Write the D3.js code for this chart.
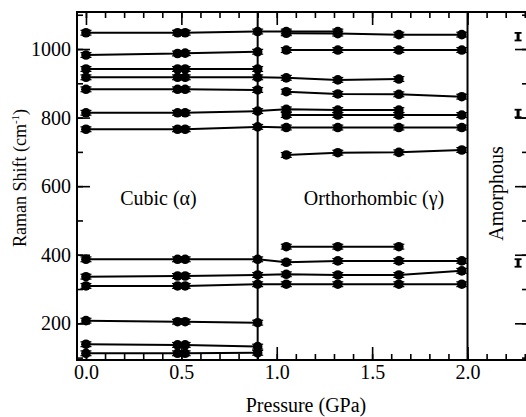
<!DOCTYPE html>
<html>
<head>
<meta charset="utf-8">
<script src="https://cdn.jsdelivr.net/npm/d3@7"></script>
<style>
  body { margin: 0; background: #fff; }
  svg { display: block; }
</style>
</head>
<body>
<svg id="chart" width="526" height="417" font-family="Liberation Serif" style="font-family: &quot;Liberation Serif&quot;"></svg>
<script>
// ---- data ----
const pressures = [0.0, 0.48, 0.52, 0.9, 1.05, 1.32, 1.64, 1.97];
const modeA = [1047.5, 1047.5, 1047.5, 1051, 1051, 1051, null, null];
const modeB = [null, null, null, null, 1046, 1045, 1042, 1042];
const modeC = [982.5, 987, 988, 992, null, null, null, null];
const modeD = [null, null, null, null, 997, 997, 997, 997];
const modeE = [941.7, 941.7, 941.7, 941.7, null, null, null, null];
const modeF = [917.5, 917.5, 917.5, 917.5, 916, 910, 912.5, null];
const modeG = [882.5, 882.5, 882.5, 880.6, null, null, null, null];
const modeH = [null, null, null, null, 875.5, 869, 868, 861];
const modeI = [814, 814, 814, 819, 824, 822, 822, null];
const modeJ = [null, null, null, null, 807.5, 807.5, 807.5, 807.5];
const modeK = [766, 766, 766, 773, 771, 771, 771, 771];
const modeL = [null, null, null, null, 691, 697.6, 698.7, 705.5];
const modeM = [null, null, null, null, 423.5, 423.5, 423.5, null];
const modeN = [386.7, 386.7, 386.7, 386.7, 378, 382, 382, 382];
const modeO = [336, 338, 338, 341, 343, 341, 341, 353];
const modeP = [309, 309, 309, 314, 314, 314, 314, 314];
const modeQ = [207.7, 204.7, 204.7, 201.8, null, null, null, null];
const modeR = [139, 137, 137, 132, null, null, null, null];
const modeS = [112.6, 112.6, 112.6, 114, null, null, null, null];
const modes = [modeA, modeB, modeC, modeD, modeE, modeF, modeG, modeH, modeI, modeJ,
               modeK, modeL, modeM, modeN, modeO, modeP, modeQ, modeR, modeS];

const amorphPressure = 2.265;
const amorphModes = [1036, 812, 376];

const phaseBoundaries = [0.9, 2.0];
const xMajorTicks = [0.0, 0.5, 1.0, 1.5, 2.0];
const xMinorTicks = [0.0,0.1,0.2,0.3,0.4,0.5,0.6,0.7,0.8,0.9,1.0,1.1,1.2,1.3,1.4,1.5,1.6,1.7,1.8,1.9,2.0,2.1,2.2,2.3];
const yMajorTicks = [200, 400, 600, 800, 1000];
const yMinorTicks = [100, 200, 300, 400, 500, 600, 700, 800, 900, 1000, 1100];
const phaseLabels = [
  { text: "Cubic (α)", x: 0.38, y: 545 },
  { text: "Orthorhombic (γ)", x: 1.51, y: 545 }
];

// ---- layout ----
const L = 77, R = 528, T = 12, B = 360;
const FAM = "Liberation Serif";
const svg = d3.select("#chart");
const x = d3.scaleLinear().domain([-0.047, 2.317]).range([L, R]);
const y = d3.scaleLinear().domain([93, 1108]).range([B, T]);
const FS = 20;

svg.append("defs").append("clipPath").attr("id", "clip")
  .append("rect").attr("x", L).attr("y", T).attr("width", R - L).attr("height", B - T);
const plot = svg.append("g").attr("clip-path", "url(#clip)");

// lines
const line = d3.line().x(d => x(d.p)).y(d => y(d.v));
modes.forEach(m => {
  const pts = pressures.map((p, i) => ({ p, v: m[i] })).filter(d => d.v != null);
  plot.append("path").datum(pts).attr("d", line)
    .attr("fill", "none").attr("stroke", "#000").attr("stroke-width", 2);
});

// points with small error bars
const allPts = [];
modes.forEach(m => pressures.forEach((p, i) => { if (m[i] != null) allPts.push({ p, v: m[i] }); }));
const err = 7;
const eg = plot.append("g");
allPts.forEach(d => {
  const cx = x(d.p), y1 = y(d.v + err), y2 = y(d.v - err);
  eg.append("line").attr("x1", cx).attr("x2", cx).attr("y1", y1).attr("y2", y2)
    .attr("stroke", "#000").attr("stroke-width", 1.5);
  [y1, y2].forEach(yy => eg.append("line").attr("x1", cx - 5.5).attr("x2", cx + 5.5)
    .attr("y1", yy).attr("y2", yy).attr("stroke", "#000").attr("stroke-width", 1.2));
  eg.append("circle").attr("cx", cx).attr("cy", y(d.v)).attr("r", 4.8).attr("fill", "#000");
});

// amorphous points (error bar shapes)
amorphModes.forEach(v => {
  const cx = x(amorphPressure), y1 = y(v + 11), y2 = y(v - 11);
  eg.append("line").attr("x1", cx).attr("x2", cx).attr("y1", y1).attr("y2", y2)
    .attr("stroke", "#000").attr("stroke-width", 3);
  [y1, y2].forEach(yy => eg.append("line").attr("x1", cx - 3.5).attr("x2", cx + 3.5)
    .attr("y1", yy).attr("y2", yy).attr("stroke", "#000").attr("stroke-width", 1.8));
});

// phase boundaries
phaseBoundaries.forEach(p => {
  svg.append("line").attr("x1", x(p)).attr("x2", x(p)).attr("y1", T).attr("y2", B)
    .attr("stroke", "#000").attr("stroke-width", 2);
});

// axes
function styleAxis(g) {
  g.attr("font-family", FAM).attr("font-size", FS);
  g.select(".domain").remove();
  g.selectAll(".tick line").attr("stroke", "#000").attr("stroke-width", 1.6);
  g.selectAll("text").attr("font-family", FAM).attr("font-size", FS).attr("fill", "#000");
}
svg.append("g").attr("transform", `translate(0,${B})`)
  .call(d3.axisBottom(x).tickValues(xMinorTicks).tickSize(-6).tickFormat(""))
  .call(styleAxis);
svg.append("g").attr("transform", `translate(0,${B})`)
  .call(d3.axisBottom(x).tickValues(xMajorTicks).tickSize(-13).tickPadding(5).tickFormat(d3.format(".1f")))
  .call(styleAxis);
svg.append("g").attr("transform", `translate(0,${T})`)
  .call(d3.axisTop(x).tickValues(xMinorTicks).tickSize(-6).tickFormat(""))
  .call(styleAxis);
svg.append("g").attr("transform", `translate(0,${T})`)
  .call(d3.axisTop(x).tickValues(xMajorTicks).tickSize(-13).tickFormat(""))
  .call(styleAxis);
svg.append("g").attr("transform", `translate(${L},0)`)
  .call(d3.axisLeft(y).tickValues(yMinorTicks).tickSize(-6).tickFormat(""))
  .call(styleAxis);
svg.append("g").attr("transform", `translate(${L},0)`)
  .call(d3.axisLeft(y).tickValues(yMajorTicks).tickSize(-13).tickPadding(6).tickFormat(d3.format("d")))
  .call(styleAxis);
svg.append("g").attr("transform", `translate(${R},0)`)
  .call(d3.axisRight(y).tickValues(yMinorTicks).tickSize(-6).tickFormat(""))
  .call(styleAxis);
svg.append("g").attr("transform", `translate(${R},0)`)
  .call(d3.axisRight(y).tickValues(yMajorTicks).tickSize(-13).tickFormat(""))
  .call(styleAxis);

// frame
svg.append("rect").attr("x", L).attr("y", T).attr("width", R - L).attr("height", B - T)
  .attr("fill", "none").attr("stroke", "#000").attr("stroke-width", 2);

function txt(sel, fs) { return sel.attr("font-family", FAM).attr("font-size", fs || FS).attr("fill", "#000"); }

// phase labels
phaseLabels.forEach(l => {
  svg.append("text").attr("x", x(l.x)).attr("y", y(l.y)).attr("text-anchor", "middle")
    .call(txt).text(l.text);
});
svg.append("text").attr("transform", `translate(503,193.5) rotate(-90)`)
  .attr("text-anchor", "middle").call(txt).text("Amorphous");

// axis titles
svg.append("text").attr("x", 306).attr("y", 412).attr("text-anchor", "middle")
  .call(txt).text("Pressure (GPa)");
const yt = svg.append("text").attr("transform", "translate(26,178) rotate(-90)")
  .attr("text-anchor", "middle").call(txt, 18);
yt.append("tspan").text("Raman Shift (cm");
yt.append("tspan").attr("font-size", 11).attr("dy", -7).text("-1");
yt.append("tspan").attr("dy", 7).text(")");
</script>
</body>
</html>
